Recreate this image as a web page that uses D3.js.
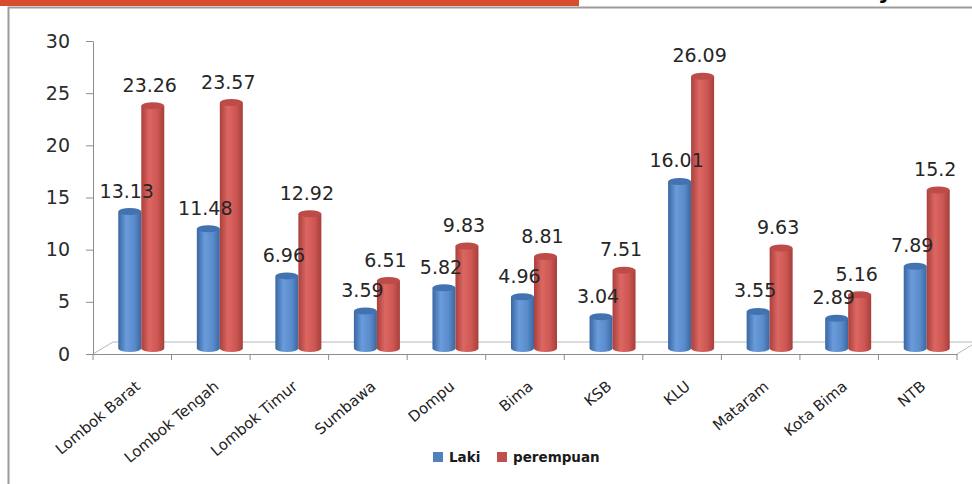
<!DOCTYPE html>
<html>
<head>
<meta charset="utf-8">
<script src="https://cdn.jsdelivr.net/npm/d3@7"></script>
<style>
  body { margin: 0; background: #fff; }
  svg { display: block; font-family: "DejaVu Sans", Verdana, sans-serif; }
</style>
</head>
<body>
<div id="chart"></div>
<script>
// categories and values
var categories = ["Lombok Barat", "Lombok Tengah", "Lombok Timur", "Sumbawa", "Dompu",
                  "Bima", "KSB", "KLU", "Mataram", "Kota Bima", "NTB"];
var laki = [13.13, 11.48, 6.96, 3.59, 5.82, 4.96, 3.04, 16.01, 3.55, 2.89, 7.89];
var perempuan = [23.26, 23.57, 12.92, 6.51, 9.83, 8.81, 7.51, 26.09, 9.63, 5.16, 15.2];
var seriesNames = ["Laki", "perempuan"];
var yTicks = [0, 5, 10, 15, 20, 25, 30];

window.onload = function() {

    var width = 972, height = 484;
    var depth = {x: 20, y: -12};   // 3d floor depth
    var barW = 23, ry = 3.5;

    var svg = d3.select("#chart")
                .append("svg")
                .attr("width", width)
                .attr("height", height);

    // gradients for the cylinders
    var defs = svg.append("defs");
    var shades = [
        {id: "gBlue", stops: ["#3a66a3", "#6a9cdb", "#5a8ccc", "#3b67a2"]},
        {id: "gRed", stops: ["#a9403c", "#dc6662", "#cd5753", "#a63f3b"]}
    ];
    shades.forEach(function(s) {
        var g = defs.append("linearGradient").attr("id", s.id)
                    .attr("x1", "0%").attr("x2", "100%").attr("y1", "0%").attr("y2", "0%");
        [0, 0.35, 0.7, 1].forEach(function(o, i) {
            g.append("stop").attr("offset", o).attr("stop-color", s.stops[i]);
        });
    });
    var topColor = ["#4272b0", "#bd4b47"];

    // slide header + frame
    svg.append("rect").attr("x", 0).attr("y", 0).attr("width", 579).attr("height", 6)
       .attr("fill", "#d84d2b");
    svg.append("text").attr("x", 878).attr("y", -1).attr("font-size", 22)
       .attr("font-weight", "bold").attr("fill", "#000").text("y");
    svg.append("path")
       .attr("d", "M8.5,484 V7.5 H972")
       .attr("fill", "none").attr("stroke", "#9c9c9c").attr("stroke-width", 2);

    var x = d3.scaleBand().domain(categories).range([93, 957]);
    var y = d3.scaleLinear().domain([0, 30]).range([354, 41]);

    // floor
    var floor = svg.append("g").attr("stroke", "#b8b8b8").attr("fill", "none");
    floor.append("path")
         .attr("d", "M93,354 L" + (93 + depth.x) + "," + (354 + depth.y) +
                    " H" + (957 + depth.x) + " L957,354");

    // y axis
    var yAxis = svg.append("g")
        .attr("transform", "translate(93,0)")
        .call(d3.axisLeft(y).tickValues(yTicks).tickSize(7).tickSizeOuter(0).tickPadding(16));
    yAxis.select(".domain").attr("stroke", "#8c8c8c");
    yAxis.selectAll(".tick line").attr("stroke", "#8c8c8c");
    yAxis.selectAll("text").attr("font-size", 19).attr("fill", "#2b2b2b")
         .attr("font-family", "DejaVu Sans");

    // x axis
    var xAxis = svg.append("g")
        .attr("transform", "translate(0,354)")
        .call(d3.axisBottom(x).tickSize(0).tickSizeOuter(0));
    xAxis.select(".domain").attr("stroke", "#8c8c8c");
    xAxis.selectAll("text")
         .attr("font-size", 15).attr("fill", "#222").attr("font-family", "DejaVu Sans")
         .attr("text-anchor", "end").attr("y", 0).attr("dy", 0)
         .attr("transform", "translate(9,34) rotate(-40)");
    // tick marks at category boundaries
    var bounds = categories.map(function(c) { return x(c); }).concat([x.range()[1]]);
    xAxis.selectAll(".bound")
         .data(bounds).enter().append("line")
         .attr("class", "bound")
         .attr("x1", d => d).attr("x2", d => d)
         .attr("y1", 0).attr("y2", 6)
         .attr("stroke", "#8c8c8c");

    // bars as cylinders, drawn at half depth
    var shift = {x: depth.x / 2 - 1, y: depth.y / 2 + 0.5};
    var rows = [];
    categories.forEach(function(c, i) {
        [laki[i], perempuan[i]].forEach(function(v, s) {
            var cx = x(c) + x.bandwidth() / 2 + shift.x + (s === 0 ? -11.5 : 11.5);
            rows.push({cat: c, s: s, v: v, cx: cx,
                       top: y(v) + shift.y, base: y(0) + shift.y});
        });
    });

    var bars = svg.append("g").selectAll("g")
        .data(rows).enter().append("g");
    bars.append("ellipse")
        .attr("cx", d => d.cx).attr("cy", d => d.base)
        .attr("rx", barW / 2).attr("ry", ry)
        .attr("fill", d => d.s === 0 ? "url(#gBlue)" : "url(#gRed)");
    bars.append("rect")
        .attr("x", d => d.cx - barW / 2).attr("y", d => d.top)
        .attr("width", barW).attr("height", d => d.base - d.top)
        .attr("fill", d => d.s === 0 ? "url(#gBlue)" : "url(#gRed)");
    bars.append("ellipse")
        .attr("cx", d => d.cx).attr("cy", d => d.top)
        .attr("rx", barW / 2).attr("ry", ry)
        .attr("fill", d => topColor[d.s]);

    // value labels
    svg.append("g").selectAll("text")
       .data(rows).enter().append("text")
       .attr("x", d => d.cx - 3).attr("y", d => d.top - 14)
       .attr("text-anchor", "middle")
       .attr("font-size", 19).attr("fill", "#262626")
       .text(d => d.v);

    // legend
    var legendX = [433, 497];
    var legend = svg.append("g").selectAll("g")
        .data(seriesNames).enter().append("g")
        .attr("transform", (d, i) => "translate(" + legendX[i] + ",452)");
    legend.append("rect").attr("width", 10).attr("height", 10)
          .attr("fill", (d, i) => i === 0 ? "#4f81bd" : "#c0504d");
    legend.append("text").attr("x", 16).attr("y", 10)
          .attr("font-size", 13.5).attr("font-weight", "bold").attr("fill", "#1a1a1a")
          .text(d => d);
};
</script>
</body>
</html>
